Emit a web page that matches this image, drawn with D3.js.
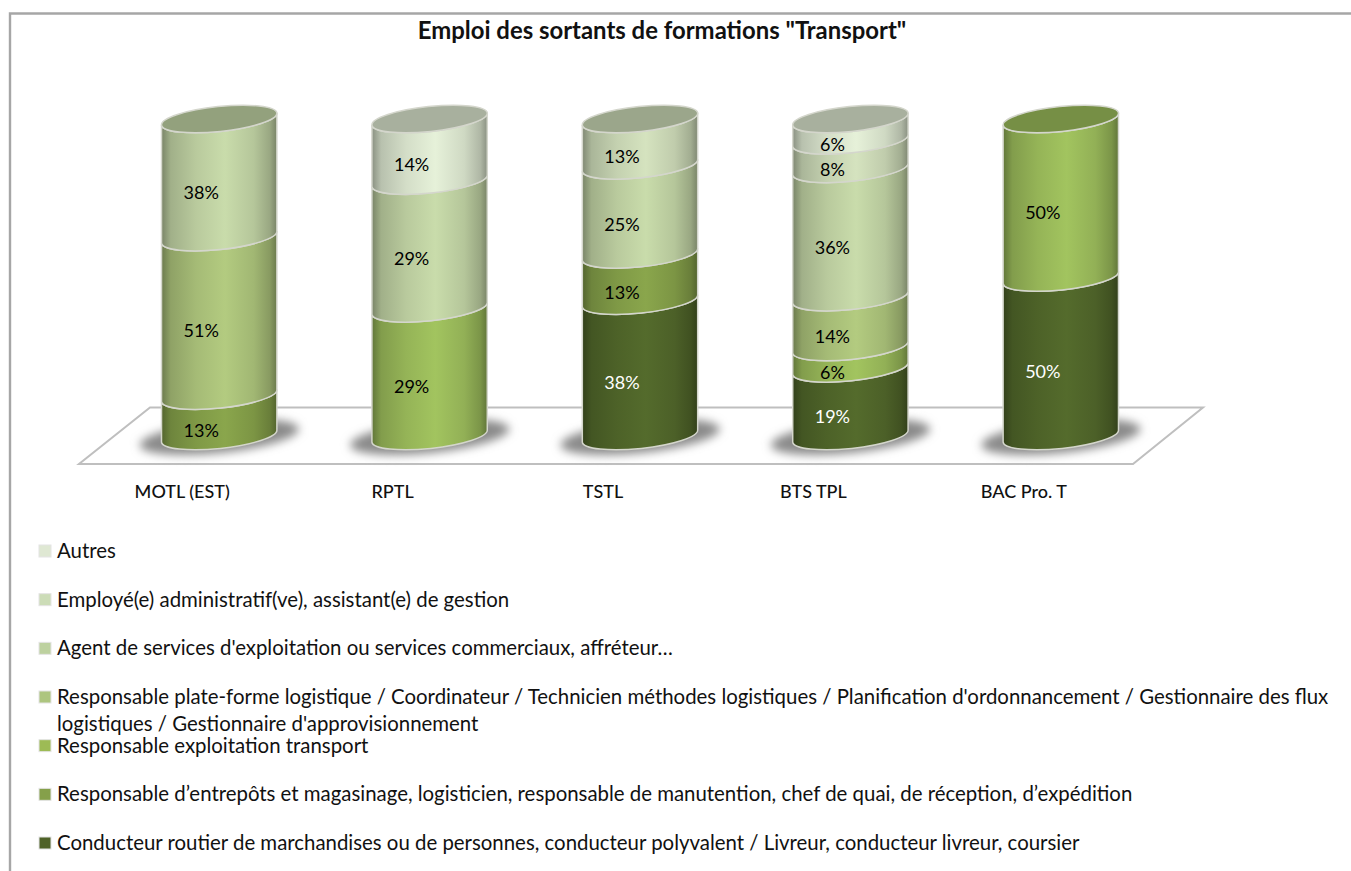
<!DOCTYPE html>
<html>
<head>
<meta charset="utf-8">
<title>Emploi des sortants de formations "Transport"</title>
<script src="https://cdn.jsdelivr.net/npm/d3@7"></script>
<style>
  html, body { margin: 0; padding: 0; background: #fff; }
  svg { display: block; }
  text { font-family: Lato, "Open Sans", sans-serif; fill: #111; }
</style>
</head>
<body>
<svg id="chart" width="1351" height="871"></svg>
<script>
var chartTitle = 'Emploi des sortants de formations "Transport"';
var formations = ['MOTL (EST)', 'RPTL', 'TSTL', 'BTS TPL', 'BAC Pro. T'];

// one array per job, in the order of the formations, 0 when the job has no segment
var conducteur   = [0, 0, 38, 19, 50];
var entrepots    = [13, 0, 13, 0, 0];
var exploitation = [0, 29, 0, 6, 50];
var plateforme   = [51, 0, 0, 14, 0];
var agent        = [38, 29, 25, 36, 0];
var employe      = [0, 0, 13, 8, 0];
var autres       = [0, 14, 0, 6, 0];

var jobKeys = ['conducteur', 'entrepots', 'exploitation', 'plateforme', 'agent', 'employe', 'autres'];
var jobValues = [conducteur, entrepots, exploitation, plateforme, agent, employe, autres];
var jobColours = ['#546b2c', '#8aa64c', '#a2c45f', '#b3cb80', '#c9dcab', '#d5e3bf', '#e6f1d9'];
var swatchColours = ['#4f6228', '#85a04a', '#9dbb55', '#adc57f', '#bdd19f', '#ccdcb7', '#dfe8d3'];

// legend is listed top to bottom, second line only for the long one
var legendLabels = [
  ['Autres'],
  ['Employé(e) administratif(ve), assistant(e) de gestion'],
  ["Agent de services d'exploitation ou services commerciaux, affréteur…"],
  ["Responsable plate-forme logistique / Coordinateur / Technicien méthodes logistiques / Planification d'ordonnancement / Gestionnaire des flux",
   "logistiques / Gestionnaire d'approvisionnement"],
  ['Responsable exploitation transport'],
  ['Responsable d’entrepôts et magasinage, logisticien, responsable de manutention, chef de quai, de réception, d’expédition'],
  ['Conducteur routier de marchandises ou de personnes, conducteur polyvalent / Livreur, conducteur livreur, coursier']
];

var svg = d3.select('#chart');
var defs = svg.append('defs');

var rx = 58, ry = 12.5, tilt = -6;
var edgeX = rx * Math.cos(tilt * Math.PI / 180);
var edgeY = rx * Math.sin(tilt * Math.PI / 180);

var x = d3.scaleBand().domain(formations).range([114, 1166]);
var y = d3.scaleLinear().domain([0, 1]).range([436, 119]);
var legendY = d3.scalePoint().domain(d3.range(legendLabels.length)).range([551, 843]);

var rows = formations.map(function(f, i) {
  var row = { formation: f };
  jobKeys.forEach(function(k, j) { row[k] = jobValues[j][i]; });
  return row;
});
// the cylinders are all full height, so the stack is expanded to 100%
var series = d3.stack().keys(jobKeys).offset(d3.stackOffsetExpand)(rows);

function shade(colour, k) {
  var c = d3.rgb(colour);
  return d3.rgb(c.r * k, c.g * k, c.b * k).formatHex();
}

// gradient across the cylinder: dark edges, light just right of the middle
jobKeys.forEach(function(k, j) {
  var grad = defs.append('linearGradient').attr('id', 'grad-' + k);
  [[0, 0.6], [0.08, 0.8], [0.3, 0.92], [0.55, 1], [0.8, 0.9], [0.94, 0.76], [1, 0.6]].forEach(function(s) {
    grad.append('stop').attr('offset', s[0]).attr('stop-color', shade(jobColours[j], s[1]));
  });
});
defs.append('filter').attr('id', 'blur')
  .attr('x', '-30%').attr('y', '-80%').attr('width', '160%').attr('height', '260%')
  .append('feGaussianBlur').attr('stdDeviation', 5);

// frame of the chart, cropped on the right and at the bottom
svg.append('path')
  .attr('d', 'M10,871V13.5H1351')
  .attr('fill', 'none').attr('stroke', '#a6a6a6').attr('stroke-width', 2.4);

svg.append('text')
  .attr('x', 662).attr('y', 39)
  .attr('text-anchor', 'middle')
  .style('font-size', '23.9px').style('font-weight', 700)
  .text(chartTitle);

// floor
svg.append('path')
  .attr('d', 'M79,464H1133L1203,407.5H150Z')
  .attr('fill', '#fff').attr('stroke', '#bfbfbf').attr('stroke-width', 2);

function cx(f) { return x(f) + x.bandwidth() / 2; }

// shadows under the cylinders
svg.append('g').selectAll('ellipse').data(formations).join('ellipse')
  .attr('cx', cx).attr('cy', y(0) + 1)
  .attr('rx', 80).attr('ry', 16)
  .attr('transform', function(f) { return 'rotate(' + tilt + ' ' + cx(f) + ' ' + y(0) + ')'; })
  .attr('fill', '#8a8a8a')
  .attr('filter', 'url(#blur)');

// side of a segment, both the lower and upper edge bulge towards the viewer
function segmentPath(f, v0, v1) {
  var c = cx(f);
  var arc = 'A' + rx + ',' + ry + ' ' + tilt + ' 0 ';
  return 'M' + (c - edgeX) + ',' + (y(v0) - edgeY)
    + arc + '0 ' + (c + edgeX) + ',' + (y(v0) + edgeY)
    + 'L' + (c + edgeX) + ',' + (y(v1) + edgeY)
    + arc + '1 ' + (c - edgeX) + ',' + (y(v1) - edgeY) + 'Z';
}

var segments = svg.append('g').selectAll('g').data(series).join('g');
segments.selectAll('path')
  .data(function(s) {
    return s.filter(function(d) { return d[1] > d[0]; }).map(function(d) {
      return { key: s.key, f: d.data.formation, v0: d[0], v1: d[1] };
    });
  })
  .join('path')
  .attr('d', function(d) { return segmentPath(d.f, d.v0, d.v1); })
  .attr('fill', function(d) { return 'url(#grad-' + d.key + ')'; })
  .attr('stroke', '#d4d6cc').attr('stroke-width', 1.5);

// lid takes a darker shade of whichever job is on top
var lids = formations.map(function(f, i) {
  var top = 0;
  jobValues.forEach(function(v, j) { if (v[i] > 0) top = j; });
  return { f: f, colour: shade(jobColours[top], 0.73) };
});
svg.append('g').selectAll('ellipse').data(lids).join('ellipse')
  .attr('cx', function(d) { return cx(d.f); }).attr('cy', y(1))
  .attr('rx', rx).attr('ry', ry)
  .attr('transform', function(d) { return 'rotate(' + tilt + ' ' + cx(d.f) + ' ' + y(1) + ')'; })
  .attr('fill', function(d) { return d.colour; })
  .attr('stroke', '#d4d6cc').attr('stroke-width', 1.5);

// data labels sit left of the middle of each segment
var labels = svg.append('g');
series.forEach(function(s, j) {
  labels.selectAll(null)
    .data(s.filter(function(d) { return d[1] > d[0]; }))
    .join('text')
    .attr('x', function(d) { return cx(d.data.formation) - 18; })
    .attr('y', function(d) { return (y(d[0]) + y(d[1])) / 2 + 21; })
    .attr('text-anchor', 'middle')
    .style('font-size', '18px')
    .style('fill', j === 0 ? '#fff' : '#000')
    .text(function(d) { return d.data[s.key] + '%'; });
});

// category axis, labels are shifted left of the cylinders in the original
var axis = svg.append('g')
  .attr('transform', 'translate(-37,485)')
  .call(d3.axisBottom(x).tickSize(0).tickPadding(0));
axis.select('.domain').remove();
axis.selectAll('text')
  .style('font-family', 'Lato, sans-serif')
  .style('font-size', '18px').style('font-weight', 500).style('fill', '#111');

// legend
var legend = svg.append('g').selectAll('g').data(legendLabels).join('g')
  .attr('transform', function(d, i) { return 'translate(0,' + legendY(i) + ')'; });
legend.append('rect')
  .attr('x', 39).attr('y', -6).attr('width', 12).attr('height', 12)
  .attr('fill', function(d, i) { return swatchColours[swatchColours.length - 1 - i]; })
  .attr('stroke', '#e4e4e4').attr('stroke-width', 1);
legend.selectAll('text').data(function(d) { return d; }).join('text')
  .attr('x', 57)
  .attr('y', function(d, i) { return 7 + i * 27; })
  .style('font-size', '20.4px')
  .text(function(d) { return d; });
</script>
</body>
</html>
